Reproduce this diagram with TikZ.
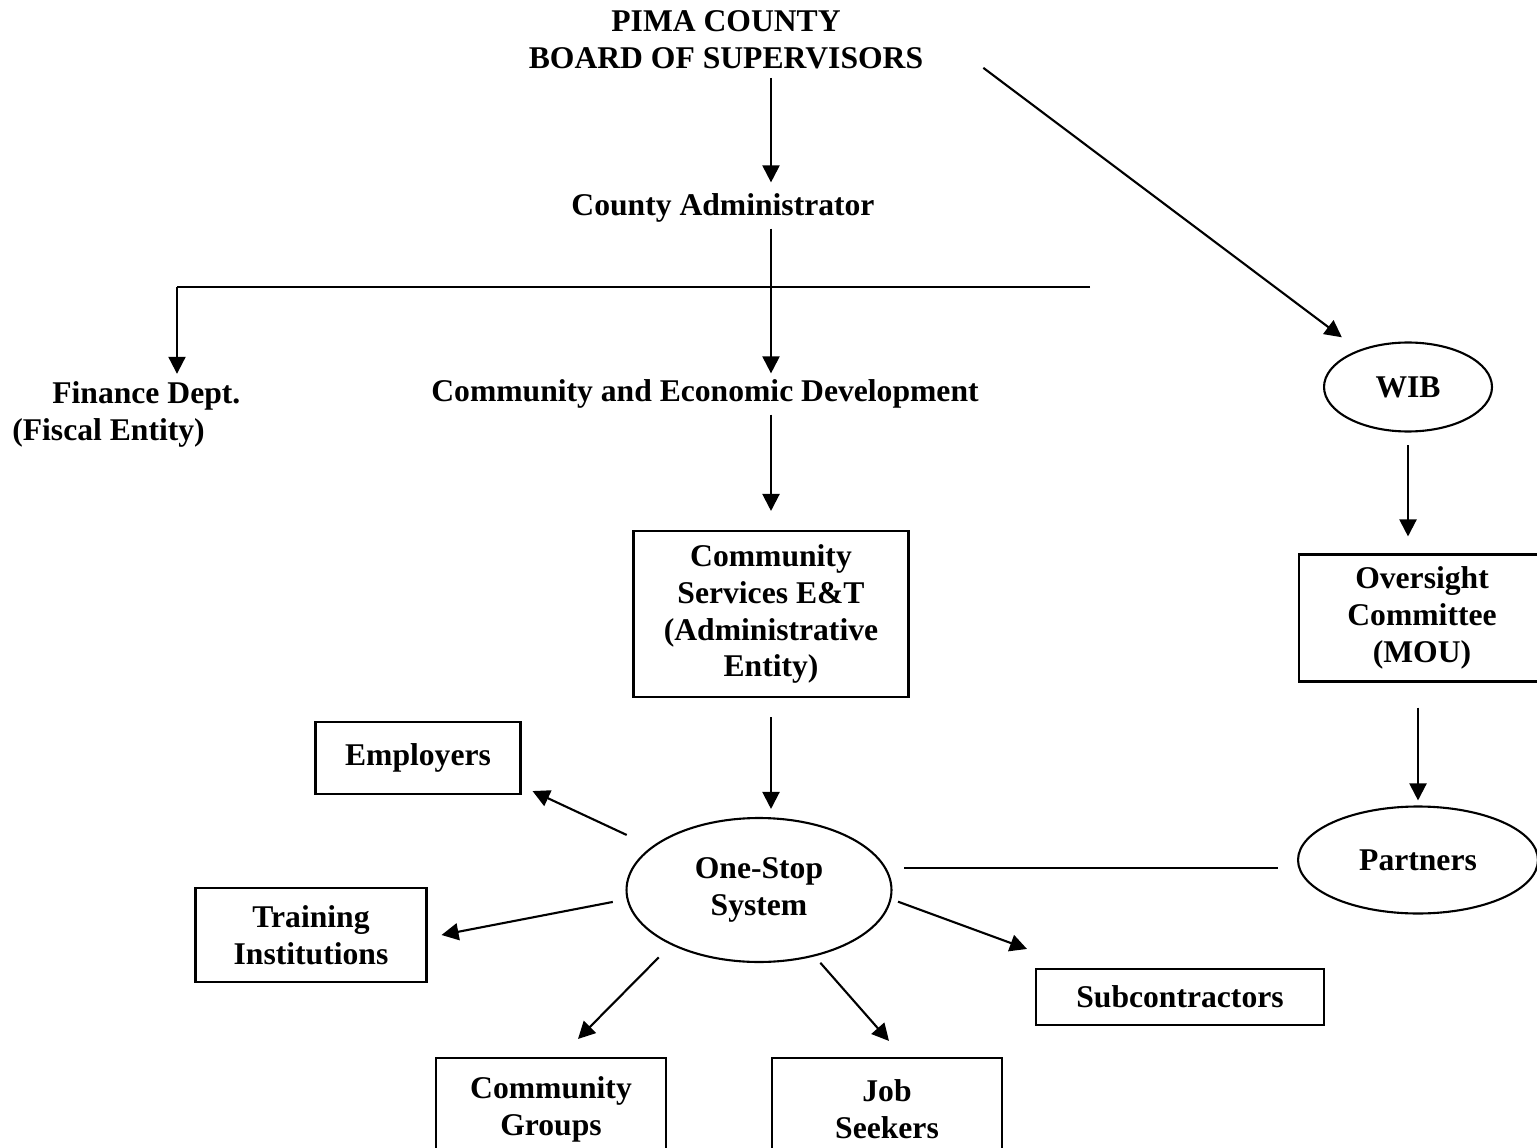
\documentclass[tikz,border=0pt]{standalone}
\usepackage{fontspec}
\setmainfont{Liberation Serif}
\usetikzlibrary{positioning,shapes.geometric,arrows.meta}

\begin{document}
\begin{tikzpicture}[x=0.02cm, y=-0.02cm,
	every node/.style={font=\bfseries\fontsize{18}{21}\selectfont},
	lbl/.style={align=center},
	box/.style={rectangle, draw, line width=1.2pt, align=center, inner sep=0pt},
	oval/.style={ellipse, draw, line width=1.2pt, align=center, inner sep=0pt},
	conn/.style={line width=1.2pt},
	arr/.style={conn, -{Triangle[length=0.34cm,width=0.34cm]}}
	]
	\useasboundingbox (0,0) rectangle (1537,1148);
	\clip (0,0) rectangle (1537,1148);

	\node (bos) [lbl] at (726,40) {PIMA COUNTY\\BOARD OF SUPERVISORS};
	\node (ca) [lbl] at (723,208) {County Administrator};
	\node (ced) [lbl] at (705,394) {Community and Economic Development};
	\node (fin) [lbl, align=left, anchor=west, inner sep=0pt] at (12,414)
		{\hspace*{0.8cm}Finance Dept.\\(Fiscal Entity)};
	\node (cs) [box, minimum width=5.5cm, minimum height=3.32cm] at (771,614)
		{Community\\Services E\&T\\(Administrative\\Entity)};
	\node (os) [oval, minimum width=5.3cm, minimum height=2.88cm] at (759,890) {One-Stop\\System};
	\node (emp) [box, minimum width=4.1cm, minimum height=1.44cm] at (418,758) {Employers};
	\node (tr) [box, minimum width=4.62cm, minimum height=1.88cm] at (311,935) {Training\\Institutions};
	\node (cg) [box, minimum width=4.6cm, minimum height=2.04cm] at (551,1109) {Community\\Groups};
	\node (js) [box, minimum width=4.6cm, minimum height=2.04cm] at (887,1109) {Job\\Seekers};
	\node (sub) [box, minimum width=5.76cm, minimum height=1.12cm] at (1180,997) {Subcontractors};
	\node (wib) [oval, minimum width=3.36cm, minimum height=1.78cm] at (1408,387) {WIB};
	\node (ovs) [box, minimum width=4.92cm, minimum height=2.54cm] at (1422,618)
		{Oversight\\Committee\\(MOU)};
	\node (par) [oval, minimum width=4.8cm, minimum height=2.14cm] at (1418,860) {Partners};

	\coordinate (brL) at (177,287);
	\coordinate (brR) at (1090,287);

	\draw[arr, shorten <=0.05cm, shorten >=0.1cm] (bos.south -| cs) -- (ca.north -| cs);
	\draw[arr] (ca.south -| cs) -- (ced.north -| cs);
	\draw[conn] (brR) -- (brL);
	\draw[arr, shorten >=0.14cm] (brL) -- (brL |- fin.north);
	\draw[arr, shorten >=0.38cm] (ced.south -| cs) -- (cs.north);
	\draw[arr, shorten <=0.38cm, shorten >=0.16cm] (cs.south) -- (cs.south |- os.north);
	\draw[arr, shorten >=0.42cm] ([xshift=1.08cm,yshift=0.15cm]bos.south east) -- (wib);
	\draw[arr, shorten <=0.25cm, shorten >=0.34cm] (wib.south) -- (wib.south |- ovs.north);
	\draw[arr, shorten <=0.5cm, shorten >=0.1cm] (par.north |- ovs.south) -- (par.north);
	\draw[conn, shorten <=0.36cm, shorten >=0.38cm] (os.10) -- (os.10 -| par.west);
	\draw[arr, shorten <=0.55cm] (os.158) -- ([xshift=0.22cm,yshift=0.08cm]emp.south east);
	\draw[arr, shorten <=0.28cm] (os.184) -- ([xshift=0.28cm]tr.east);
	\draw[arr, shorten <=0.35cm] (os.212) -- ([xshift=0.54cm,yshift=0.36cm]cg.north);
	\draw[arr, shorten <=0.17cm] (os.310) -- ([xshift=0.04cm,yshift=0.32cm]js.north);
	\draw[arr, shorten <=0.14cm] (os.356) -- ([xshift=-0.16cm,yshift=0.38cm]sub.north west);
\end{tikzpicture}
\end{document}
